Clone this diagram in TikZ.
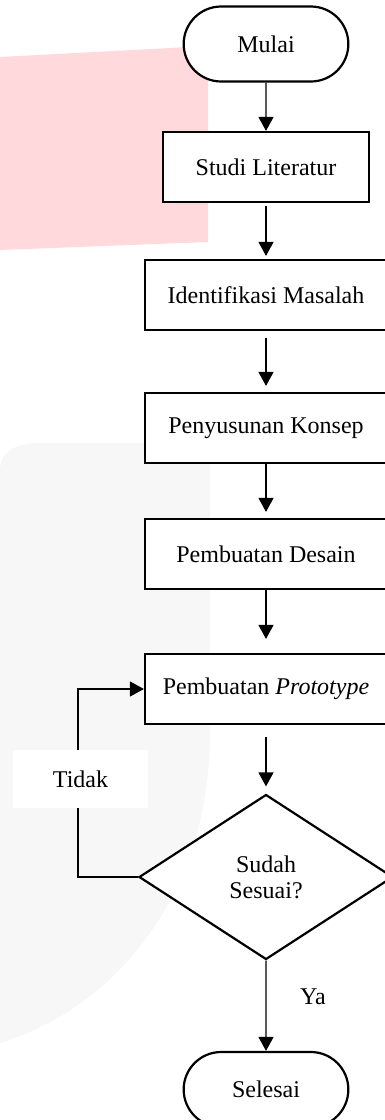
\documentclass[tikz,border=0pt]{standalone}
\usepackage{fontspec}
\setmainfont{Liberation Serif}
\usetikzlibrary{shapes.misc,shapes.geometric,arrows.meta}
\definecolor{pinkbg}{RGB}{255,217,219}
\definecolor{graybg}{RGB}{247,247,247}
\begin{document}
\begin{tikzpicture}[x=0.5pt,y=-0.5pt,
    font=\fontsize{12}{14}\selectfont,
    box/.style={draw,line width=1.1pt,fill=white,minimum width=121pt,minimum height=35pt,inner sep=0pt},
    term/.style={draw,rounded rectangle,line width=1.1pt,fill=white,minimum width=89pt,minimum height=37.5pt},
    arr/.style={-{Triangle[width=7.5pt,length=7pt]},line width=0.6pt}]
          \clip (0,0) rectangle (385,1120);
          % latar
          \fill [pinkbg] (0,57) -- (208,46) -- (208,242) -- (0,250) -- cycle;
          \fill [graybg] (0,1043) -- (0,470) .. controls (0,452) and (15,443) .. (40,443) -- (210,443)
                -- (210,733) .. controls (210,900) and (110,1010) .. (0,1043) -- cycle;

          \node [term] (mulai) at (266,44) {Mulai};
          \node [box,minimum width=103pt] (studi) at (266,167) {Studi Literatur};
          \node [box] (masalah) at (266,295) {Identifikasi Masalah};
          \node [box] (konsep) at (266,428) {Penyusunan Konsep};
          \node [box] (desain) at (266,554) {Pembuatan Desain};
          \node [box] (proto) at (266,689) {Pembuatan \textit{Prototype}};
          \node [draw,diamond,line width=1.1pt,fill=white,minimum width=127pt,minimum height=82.5pt,
                inner sep=0pt,align=center,font=\fontsize{12}{13}\selectfont] (cek) at (266,877) {Sudah\\Sesuai?};
          \node [term] (selesai) at (266,1089.5) {Selesai};
          \coordinate (balik) at (78,877);

          \draw [arr] (mulai) edge (studi);
          \draw [arr] (studi) edge [shorten <=1.5pt, shorten >=1.5pt] (masalah);
          \draw [arr] (masalah) edge [shorten <=3.5pt, shorten >=3pt] (konsep);
          \draw [arr] (konsep) edge [shorten >=3pt] (desain);
          \draw [arr] (desain) edge [shorten >=7pt] (proto);
          \draw [arr] (proto) edge [shorten <=6pt, shorten >=3.5pt] (cek);
          \draw [arr] (cek) edge (selesai);
          \draw [arr] (cek.west) -- (balik) |- (proto.west);

          \node [fill=white,minimum width=67.5pt,minimum height=29pt] (tidak) at (80.5,779) {Tidak};
          \node (ya) at (313,997) {Ya};
          \end{tikzpicture}
\end{document}
